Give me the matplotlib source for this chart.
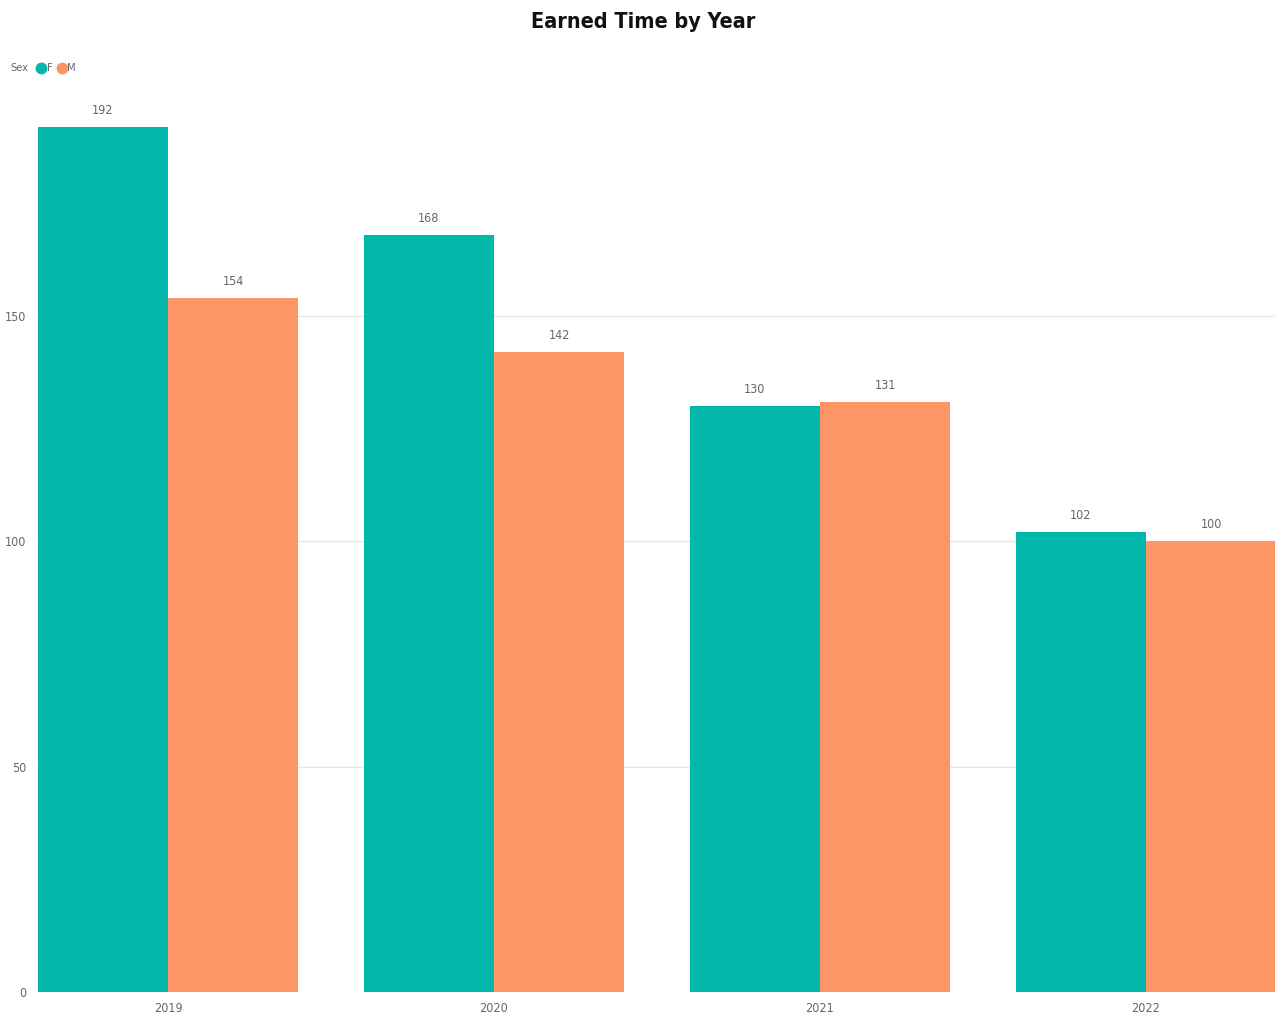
import matplotlib
matplotlib.use("Agg")
import matplotlib.pyplot as plt
import numpy as np
from matplotlib.lines import Line2D
from matplotlib import font_manager as fm

years = ["2019", "2020", "2021", "2022"]
f_values = [192, 168, 130, 102]
m_values = [154, 142, 131, 100]
yticks = [0, 50, 100, 150]

teal = "#01B8AA"
orange = "#FD9567"
gray = "#666666"


def find_font(bold):
    for f in fm.fontManager.ttflist:
        base = f.fname.split("/")[-1]
        target = "DejaVuSansCondensed-Bold.ttf" if bold else "DejaVuSansCondensed.ttf"
        if base == target:
            return f.fname
    return None


reg_path = find_font(False)
bold_path = find_font(True)
reg = fm.FontProperties(fname=reg_path) if reg_path else fm.FontProperties(family="DejaVu Sans", stretch="condensed")
bld = fm.FontProperties(fname=bold_path) if bold_path else fm.FontProperties(family="DejaVu Sans", stretch="condensed", weight="bold")


def rp(size):
    p = reg.copy()
    p.set_size(size)
    return p


def bp(size):
    p = bld.copy()
    p.set_size(size)
    return p


fig = plt.figure(figsize=(12.75, 10.19), dpi=100)
ax = fig.add_axes([37/1275, 27/1019, 1 - 37/1275, (992-95)/1019])

x = np.arange(len(years))
w = 0.4
ax.bar(x - w/2, f_values, width=w, color=teal, zorder=3)
ax.bar(x + w/2, m_values, width=w, color=orange, zorder=3)

for xi, v in zip(x, f_values):
    ax.text(xi - w/2, v + 2.2, str(v), ha="center", va="bottom", color=gray, fontproperties=rp(9))
for xi, v in zip(x, m_values):
    ax.text(xi + w/2, v + 2.2, str(v), ha="center", va="bottom", color=gray, fontproperties=rp(9))

ax.set_xlim(-0.402, 3.396)
ax.set_ylim(0, 199)
ax.set_yticks(yticks)
ax.set_yticklabels([str(t) for t in yticks], color=gray, fontproperties=rp(9))
ax.set_xticks(x)
ax.set_xticklabels(years, color=gray, fontproperties=rp(9))
ax.tick_params(length=0, pad=7)
ax.tick_params(axis='y', pad=8)
ax.yaxis.grid(True, color="#E6E6E6", linewidth=1, zorder=0)
for s in ax.spines.values():
    s.set_visible(False)

fig.text(643/1275, 1 - 22/1019, "Earned Time by Year", ha="center", va="center",
         color="#111111", fontproperties=bp(15.5))

fig.text(10/1275, 1 - 68/1019, "Sex", ha="left", va="center", color=gray, fontproperties=rp(8))
fig.add_artist(Line2D([41/1275], [1 - 68/1019], marker="o", markersize=7.5, color=teal,
                      transform=fig.transFigure, linestyle=""))
fig.text(46.5/1275, 1 - 68/1019, "F", ha="left", va="center", color=gray, fontproperties=rp(8))
fig.add_artist(Line2D([62/1275], [1 - 68/1019], marker="o", markersize=7.5, color=orange,
                      transform=fig.transFigure, linestyle=""))
fig.text(67.5/1275, 1 - 68/1019, "M", ha="left", va="center", color=gray, fontproperties=rp(8))

fig.savefig("out.png", dpi=100)
